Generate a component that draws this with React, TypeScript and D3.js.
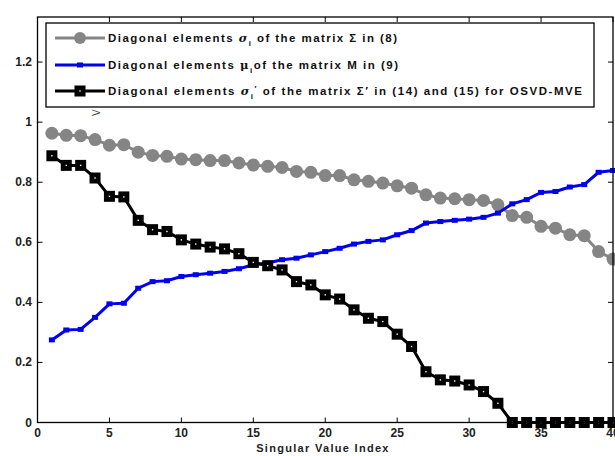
import React from "react";
import * as d3 from "d3";

const indices = d3.range(1, 41);
const sigma = [0.963,0.956,0.955,0.942,0.923,0.925,0.900,0.889,0.886,0.877,0.875,0.872,0.872,0.864,0.857,0.853,0.849,0.836,0.833,0.822,0.822,0.808,0.803,0.797,0.788,0.780,0.758,0.747,0.745,0.742,0.739,0.725,0.689,0.683,0.653,0.647,0.625,0.622,0.569,0.544];
const mu = [0.275,0.308,0.310,0.350,0.395,0.397,0.447,0.469,0.472,0.486,0.492,0.497,0.503,0.512,0.525,0.531,0.542,0.547,0.558,0.569,0.580,0.594,0.603,0.608,0.625,0.639,0.664,0.669,0.673,0.677,0.683,0.697,0.728,0.742,0.766,0.769,0.784,0.792,0.833,0.839];
const sigmaPrime = [0.888,0.856,0.856,0.814,0.753,0.751,0.673,0.642,0.636,0.608,0.594,0.584,0.578,0.562,0.533,0.522,0.508,0.469,0.458,0.425,0.411,0.375,0.347,0.336,0.294,0.253,0.169,0.142,0.138,0.125,0.103,0.064,0,0,0,0,0,0,0,0];
const xTicks = [0, 5, 10, 15, 20, 25, 30, 35, 40];
const yTicks = [0, 0.2, 0.4, 0.6, 0.8, 1, 1.2];
const xLabel = "Singular Value Index";

const W = 615, H = 456;
const L = 37.5, R = 613, T = 17, B = 422.5;
const FONT = "'Liberation Sans', Arial, sans-serif";

export default function App() {
  const x = d3.scaleLinear().domain([0, 40]).range([L, R]);
  const y = d3.scaleLinear().domain([0, 1.35]).range([B, T]);
  const line = d3.line<number>().x((_, i) => x(indices[i])).y((d) => y(d));
  const gray = "#858585";
  const blue = "#0000ee";
  const tickLen = 5;

  return (
    <svg width={W} height={H} style={{ position: "absolute", left: 0, top: 0, background: "#fff" }}>
      <rect x={0} y={0} width={W} height={H} fill="#fff" />
      {/* series */}
      <path d={line(sigma) || ""} fill="none" stroke={gray} strokeWidth={3} />
      {sigma.map((v, i) => (
        <circle key={"g" + i} cx={x(indices[i])} cy={y(v)} r={6.5} fill={gray} />
      ))}
      <path d={line(mu) || ""} fill="none" stroke={blue} strokeWidth={3} />
      {mu.map((v, i) => (
        <rect key={"b" + i} x={x(indices[i]) - 3} y={y(v) - 2.5} width={6} height={5} fill={blue} />
      ))}
      <path d={line(sigmaPrime) || ""} fill="none" stroke="#000" strokeWidth={3} />
      {sigmaPrime.map((v, i) => (
        <g key={"k" + i}>
          <rect x={x(indices[i]) - 5.5} y={y(v) - 5.5} width={11} height={11} fill="#000" />
          <rect x={x(indices[i]) - 0.7} y={y(v) - 0.7} width={1.4} height={1.4} fill="#fff" />
        </g>
      ))}
      {/* axes box */}
      <rect x={L} y={T} width={R - L} height={B - T} fill="none" stroke="#000" strokeWidth={1.3} />
      {xTicks.map((t) => (
        <g key={"xt" + t}>
          <line x1={x(t)} x2={x(t)} y1={B} y2={B - tickLen} stroke="#000" strokeWidth={1} />
          <line x1={x(t)} x2={x(t)} y1={T} y2={T + tickLen} stroke="#000" strokeWidth={1} />
          <text x={x(t)} y={437} textAnchor="middle" fontFamily={FONT} fontSize={12} fontWeight="bold" fill="#222">{t}</text>
        </g>
      ))}
      {yTicks.map((t) => (
        <g key={"yt" + t}>
          <line x1={L} x2={L + tickLen} y1={y(t)} y2={y(t)} stroke="#000" strokeWidth={1} />
          <line x1={R} x2={R - tickLen} y1={y(t)} y2={y(t)} stroke="#000" strokeWidth={1} />
          <text x={32} y={y(t) + 4} textAnchor="end" fontFamily={FONT} fontSize={12} fontWeight="bold" fill="#222">{String(t)}</text>
        </g>
      ))}
      <text x={323} y={452} textAnchor="middle" fontFamily={FONT} fontSize={11} fontWeight="bold" letterSpacing={1.3} fill="#222">{xLabel}</text>
      {/* stray rotated glyph */}
      <text transform="translate(100,116) rotate(-90)" fontFamily={FONT} fontSize={10} fill="#444">V</text>
      {/* legend */}
      <rect x={46} y={23} width={548} height={84} fill="#fff" stroke="#000" strokeWidth={1.3} />
      <g fontFamily={FONT} fontSize={11.5} fontWeight="bold" fill="#111">
        <line x1={55} x2={105} y1={38} y2={38} stroke={gray} strokeWidth={3} />
        <circle cx={80} cy={38} r={6} fill={gray} />
        <text x={108} y={42} textLength={289} lengthAdjust="spacing">
          Diagonal elements <tspan fontFamily="'DejaVu Serif', serif" fontStyle="italic">σ</tspan><tspan dy={4} fontSize={8}>i</tspan><tspan dy={-4}> of the matrix Σ in  (8)</tspan>
        </text>
        <line x1={55} x2={105} y1={65} y2={65} stroke={blue} strokeWidth={3} />
        <rect x={77} y={62.5} width={6} height={5} fill={blue} />
        <text x={108} y={69} textLength={290} lengthAdjust="spacing">
          Diagonal elements <tspan fontFamily="'DejaVu Serif', serif">μ</tspan><tspan dy={4} fontSize={8}>i</tspan><tspan dy={-4}>of the matrix M in  (9)</tspan>
        </text>
        <line x1={55} x2={105} y1={91} y2={91} stroke="#000" strokeWidth={3} />
        <rect x={74.5} y={85.5} width={11} height={11} fill="#000" />
        <rect x={79.3} y={90.3} width={1.4} height={1.4} fill="#fff" />
        <text x={108} y={95} textLength={474} lengthAdjust="spacing">
          Diagonal elements <tspan fontFamily="'DejaVu Serif', serif" fontStyle="italic">σ</tspan><tspan dy={4} fontSize={8}>i</tspan><tspan dy={-8} fontSize={8}>′</tspan><tspan dy={4}> of the matrix Σ′ in  (14) and (15) for OSVD-MVE</tspan>
        </text>
      </g>
    </svg>
  );
}
